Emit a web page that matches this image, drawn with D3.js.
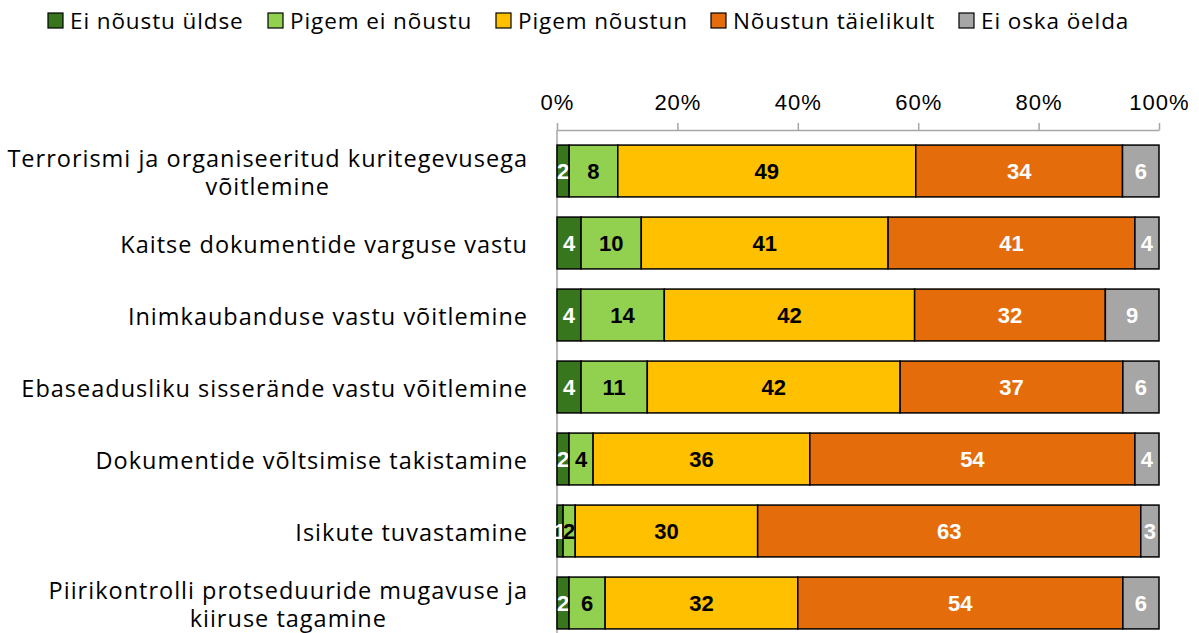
<!DOCTYPE html>
<html>
<head>
<meta charset="UTF-8">
<script src="https://d3js.org/d3.v7.min.js"></script>
<style>
	body { margin: 0; background: #fff; }
	svg { font-family: "Open Sans", "Liberation Sans", sans-serif; }
	.Cat text { font-size: 23.5px; letter-spacing: 1px; fill: #000; }
	.Legend text { font-size: 22.5px; letter-spacing: 0.9px; fill: #000; }
	.XAxis text { font-size: 22px; letter-spacing: 1px; fill: #000; }
	.Val { font-size: 22px; font-weight: bold; font-family: "Liberation Sans", Arial, sans-serif; }
</style>
</head>
<body>
<svg class="Chart"></svg>
<script>
// categories, top to bottom (lines split where the label wraps)
var Categories = [
	["Terrorismi ja organiseeritud kuritegevusega", "võitlemine"],
	["Kaitse dokumentide varguse vastu"],
	["Inimkaubanduse vastu võitlemine"],
	["Ebaseadusliku sisserände vastu võitlemine"],
	["Dokumentide võltsimise takistamine"],
	["Isikute tuvastamine"],
	["Piirikontrolli protseduuride mugavuse ja", "kiiruse tagamine"]
];
var SeriesNames = ["Ei nõustu üldse", "Pigem ei nõustu", "Pigem nõustun", "Nõustun täielikult", "Ei oska öelda"];
var EiNoustuYldse     = [2, 4, 4, 4, 2, 1, 2];
var PigemEiNoustu     = [8, 10, 14, 11, 4, 2, 6];
var PigemNoustun      = [49, 41, 42, 42, 36, 30, 32];
var NoustunTaielikult = [34, 41, 32, 37, 54, 63, 54];
var EiOskaOelda       = [6, 4, 9, 6, 4, 3, 6];
var TickValues = [0, 0.2, 0.4, 0.6, 0.8, 1];

var Colors = ["#38761d", "#92d050", "#ffc000", "#e46c0a", "#a6a6a6"];
var LabelColors = ["#fff", "#000", "#000", "#fff", "#fff"];

var Width = 1199, Height = 633;
var Left = 557, Right = 1159, Top = 135, Bottom = 639;

var Svg = d3.select(".Chart").attr("width", Width).attr("height", Height);

var AllSeries = [EiNoustuYldse, PigemEiNoustu, PigemNoustun, NoustunTaielikult, EiOskaOelda];
var Rows = Categories.map(function(c, i) {
	var row = { idx: i };
	SeriesNames.forEach(function(s, k) { row[s] = AllSeries[k][i]; });
	return row;
});
// bars are stretched to a full 100% each
var Stacked = d3.stack().keys(SeriesNames).offset(d3.stackOffsetExpand)(Rows);

var XScale = d3.scaleLinear().domain([0, 1]).range([Left, Right]);
var YScale = d3.scaleBand().domain(d3.range(Categories.length)).range([Top, Bottom]).paddingInner(0.28).paddingOuter(0.14);

// x axis at the top
var XAxis = d3.axisTop(XScale).tickValues(TickValues).tickFormat(d3.format(".0%")).tickSize(7).tickSizeOuter(0);
var AxisG = Svg.append("g").attr("class", "XAxis").attr("transform", "translate(0,130)").call(XAxis);
AxisG.select(".domain").attr("stroke", "#a6a6a6").attr("stroke-width", 1.5);
AxisG.selectAll(".tick line").attr("stroke", "#a6a6a6").attr("stroke-width", 1.5);
AxisG.selectAll(".tick text").attr("y", -28).attr("dy", "0.35em").attr("font-family", null).attr("font-size", null);

// vertical category axis line
Svg.append("line").attr("x1", Left).attr("x2", Left).attr("y1", 130).attr("y2", Height)
	.attr("stroke", "#a6a6a6").attr("stroke-width", 1.5);

// bars
var Groups = Svg.selectAll(".Series").data(Stacked).enter().append("g").attr("class", "Series");
Groups.selectAll("rect").data(function(d) { return d.map(function(p) { return { k: d.index, p: p }; }); })
	.enter().append("rect")
	.attr("x", function(d) { return XScale(d.p[0]); })
	.attr("y", function(d) { return YScale(d.p.data.idx); })
	.attr("width", function(d) { return XScale(d.p[1]) - XScale(d.p[0]); })
	.attr("height", YScale.bandwidth())
	.attr("fill", function(d) { return Colors[d.k]; })
	.attr("stroke", "#000").attr("stroke-width", 1.5);

Groups.selectAll("text").data(function(d) { return d.map(function(p) { return { k: d.index, p: p }; }); })
	.enter().append("text")
	.attr("class", "Val")
	.attr("x", function(d) { return (XScale(d.p[0]) + XScale(d.p[1])) / 2; })
	.attr("y", function(d) { return YScale(d.p.data.idx) + YScale.bandwidth() / 2; })
	.attr("dy", "0.36em")
	.attr("text-anchor", "middle")
	.attr("fill", function(d) { return LabelColors[d.k]; })
	.text(function(d) { return d.p.data[SeriesNames[d.k]]; });

// category labels: block right-aligned at 528, wrapped lines centred on each other
var Cat = Svg.append("g").attr("class", "Cat");
Categories.forEach(function(lines, i) {
	var cy = YScale(i) + YScale.bandwidth() / 2 + 1.5;
	var spans = lines.map(function(line, j) {
		return Cat.append("text").attr("text-anchor", "start").attr("x", 0)
			.attr("y", cy + (j - (lines.length - 1) / 2) * 28)
			.attr("dy", "0.35em").text(line);
	});
	var widths = spans.map(function(s) { return s.node().getBBox().width; });
	var maxW = d3.max(widths);
	var mid = 528 - maxW / 2;
	spans.forEach(function(s, j) { s.attr("x", mid - widths[j] / 2); });
});

// legend
var LegendX = [48, 268, 496, 711, 959];
var Legend = Svg.append("g").attr("class", "Legend");
SeriesNames.forEach(function(s, k) {
	Legend.append("rect").attr("x", LegendX[k]).attr("y", 13).attr("width", 15).attr("height", 15)
		.attr("fill", Colors[k]).attr("stroke", "#000").attr("stroke-width", 1.2);
	Legend.append("text").attr("x", LegendX[k] + 22).attr("y", 21).attr("dy", "0.35em").text(s);
});
</script>
</body>
</html>
